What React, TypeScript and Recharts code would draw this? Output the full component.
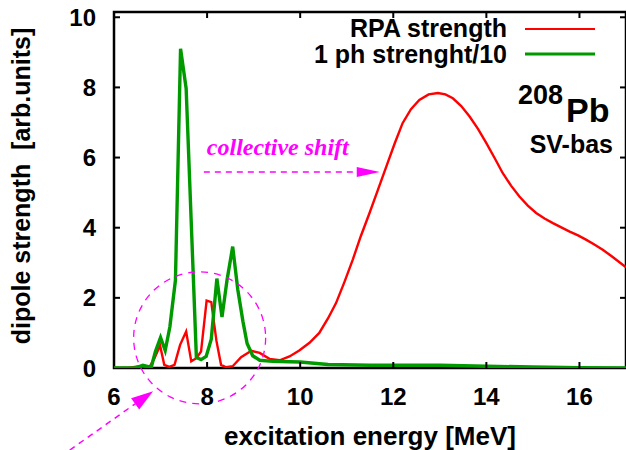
import React from 'react';
import {
  LineChart,
  Line,
  XAxis,
  YAxis,
  ReferenceLine,
  ReferenceArea,
  ReferenceDot,
  Legend,
} from 'recharts';

// RPA dipole strength of 208Pb (SV-bas)
const rpaEnergy = [
  6.0, 6.3, 6.55, 6.76, 6.87, 6.99, 7.08, 7.19, 7.3, 7.42, 7.55, 7.66, 7.77, 7.87, 7.99, 8.09,
  8.2, 8.3, 8.41, 8.55, 8.73, 8.95, 9.13, 9.34, 9.56, 9.77, 9.98, 10.2, 10.41, 10.6, 10.77,
  10.95, 11.13, 11.3, 11.49, 11.67, 11.85, 12.03, 12.2, 12.38, 12.56, 12.76, 12.96, 13.12,
  13.28, 13.46, 13.64, 13.82, 14.0, 14.18, 14.35, 14.53, 14.71, 14.89, 15.07, 15.25, 15.43,
  15.61, 15.79, 15.97, 16.14, 16.32, 16.5, 16.7, 17.0,
];
const rpaStrength = [
  0, 0, 0.05, 0.02, 0.28, 0.64, 0.09, 0.03, 0.09, 0.66, 1.04, 0.19, 0.28, 0.47, 1.92, 1.88,
  0.78, 0.09, 0.02, 0.05, 0.31, 0.49, 0.43, 0.26, 0.22, 0.33, 0.5, 0.72, 1.0, 1.42, 1.85,
  2.45, 3.09, 3.75, 4.42, 5.08, 5.74, 6.4, 6.98, 7.38, 7.64, 7.8, 7.84, 7.8,
  7.69, 7.47, 7.17, 6.82, 6.41, 5.98, 5.56, 5.2, 4.89, 4.63, 4.42, 4.26, 4.13,
  4.01, 3.89, 3.78, 3.66, 3.52, 3.37, 3.18, 2.87,
];

// unperturbed 1ph strength, divided by 10
const phEnergy = [
  6.0, 6.45, 6.62, 6.8, 6.89, 7.0, 7.1, 7.2, 7.32, 7.43, 7.55, 7.77, 7.87, 7.98, 8.09, 8.21,
  8.32, 8.43, 8.55, 8.66, 8.77, 8.86, 8.98, 9.13, 9.41, 9.77, 10.0, 10.6, 11.5, 12.5, 13.0,
  14.0, 15.0, 16.0, 17.0,
];
const phStrength = [
  0, 0, 0.08, 0.02, 0.47, 0.87, 0.5, 1.17, 2.5, 9.1, 7.97, 0.3, 0.24, 0.33, 0.82, 2.55,
  1.45, 2.52, 3.46, 2.23, 1.33, 0.7, 0.35, 0.22, 0.19, 0.18, 0.17, 0.1, 0.08, 0.08, 0.08,
  0.05, 0.03, 0.01, 0,
];

const seriesNames = ['RPA strength', '1 ph strenght/10'];

const xTicks = [6, 8, 10, 12, 14, 16];
const yTicks = [0, 2, 4, 6, 8, 10];
const xInnerTicks = [8, 10, 12, 14, 16];
const yInnerTicks = [2, 4, 6, 8, 10];

const X_MIN = 6;
const X_MAX = 17;
const Y_MIN = 0;
const Y_MAX = 10.15;

const rpaData = rpaEnergy.map((e, i) => ({ e, s: rpaStrength[i] }));
const phData = phEnergy.map((e, i) => ({ e, s: phStrength[i] }));

const W = 626;
const H = 450;
const MARGIN = { top: 12, right: 0, bottom: 0, left: 0 };
const Y_AXIS_W = 114;
const X_AXIS_H = 82;
const PLOT_W = W - MARGIN.left - MARGIN.right - Y_AXIS_W;
const PLOT_H = H - MARGIN.top - MARGIN.bottom - X_AXIS_H;
const PX_PER_X = PLOT_W / (X_MAX - X_MIN);
const PX_PER_Y = PLOT_H / (Y_MAX - Y_MIN);
const TICK_PX = 6;
const tx = TICK_PX / PX_PER_X;
const ty = TICK_PX / PX_PER_Y;

const SANS = '"Liberation Sans", Arial, Helvetica, sans-serif';
const SERIF = '"Liberation Serif", "Times New Roman", serif';
const MAGENTA = '#ff00ff';
const RED = '#ff0000';
const GREEN = '#009a00';

const DashedArrow = (props: any) => {
  const { x1, y1, x2, y2, head = 20, half = 6, text } = props;
  const dx = x2 - x1;
  const dy = y2 - y1;
  const len = Math.hypot(dx, dy) || 1;
  const ux = dx / len;
  const uy = dy / len;
  const bx = x2 - ux * head;
  const by = y2 - uy * head;
  return (
    <g>
      <line
        x1={x1}
        y1={y1}
        x2={bx}
        y2={by}
        stroke={MAGENTA}
        strokeWidth={1.5}
        strokeDasharray="6 5"
      />
      <polygon
        points={`${x2},${y2} ${bx - uy * half},${by + ux * half} ${bx + uy * half},${by - ux * half}`}
        fill={MAGENTA}
      />
      {text ? (
        <text
          x={x1 + 3}
          y={y1 - 17}
          fill={MAGENTA}
          fontFamily={SERIF}
          fontStyle="italic"
          fontWeight="bold"
          fontSize={24}
        >
          {text}
        </text>
      ) : null}
    </g>
  );
};

const LegendContent = (props: any) => {
  const items = [...(props.payload || [])].sort(
    (a: any, b: any) => seriesNames.indexOf(a.value) - seriesNames.indexOf(b.value)
  );
  return (
    <div style={{ fontFamily: SANS, fontWeight: 'bold', fontSize: 25, color: '#000' }}>
      {items.map((it: any) => (
        <div
          key={it.value}
          style={{
            display: 'flex',
            justifyContent: 'flex-end',
            alignItems: 'center',
            height: 25.5,
            lineHeight: '25.5px',
          }}
        >
          <span style={{ whiteSpace: 'pre' }}>{it.value}</span>
          <svg width={88} height={10} style={{ display: 'block' }}>
            <line
              x1={18}
              y1={5}
              x2={88}
              y2={5}
              stroke={it.color}
              strokeWidth={it.value === seriesNames[0] ? 2.2 : 3}
            />
          </svg>
        </div>
      ))}
    </div>
  );
};

const tickStyle = { fontFamily: SANS, fontWeight: 'bold', fontSize: 24, fill: '#000' };

export default function App() {
  return (
    <div style={{ position: 'absolute', left: 0, top: 0, background: '#fff' }}>
      <LineChart width={W} height={H} margin={MARGIN}>
        <XAxis
          type="number"
          dataKey="e"
          domain={[X_MIN, X_MAX]}
          ticks={xTicks}
          allowDataOverflow
          axisLine={false}
          tickLine={false}
          tickSize={0}
          tickMargin={20}
          height={X_AXIS_H}
          tick={tickStyle}
          label={{
            content: (p: any) => {
              const vb = p.viewBox || { x: 0, y: 0, width: 0 };
              return (
                <text
                  x={vb.x + vb.width / 2}
                  y={445}
                  textAnchor="middle"
                  fontFamily={SANS}
                  fontWeight="bold"
                  fontSize={26}
                  fill="#000"
                >
                  excitation energy [MeV]
                </text>
              );
            },
          }}
        />
        <YAxis
          type="number"
          domain={[Y_MIN, Y_MAX]}
          ticks={yTicks}
          allowDataOverflow
          axisLine={false}
          tickLine={false}
          tickSize={0}
          tickMargin={18}
          width={Y_AXIS_W}
          tick={tickStyle}
          label={{
            content: (p: any) => {
              const vb = p.viewBox || { x: 0, y: 0, height: 0 };
              const cy = vb.y + vb.height / 2 - 4;
              return (
                <text
                  transform={`translate(30, ${cy}) rotate(-90)`}
                  textAnchor="middle"
                  fontFamily={SANS}
                  fontWeight="bold"
                  fontSize={25}
                  fill="#000"
                  style={{ whiteSpace: 'pre' }}
                >
                  {'dipole strength  [arb.units]'}
                </text>
              );
            },
          }}
        />

        <Line
          data={rpaData}
          dataKey="s"
          name={seriesNames[0]}
          type="linear"
          stroke={RED}
          strokeWidth={2.4}
          dot={false}
          activeDot={false}
          isAnimationActive={false}
        />
        <Line
          data={phData}
          dataKey="s"
          name={seriesNames[1]}
          type="linear"
          stroke={GREEN}
          strokeWidth={3.4}
          dot={false}
          activeDot={false}
          isAnimationActive={false}
        />

        {/* frame */}
        <ReferenceArea
          x1={X_MIN}
          x2={X_MAX}
          y1={Y_MIN}
          y2={Y_MAX}
          fill="none"
          fillOpacity={0}
          stroke="#000"
          strokeWidth={2.5}
          ifOverflow="visible"
        />
        {/* inward ticks on all four sides */}
        {xInnerTicks.map((v) => (
          <ReferenceLine
            key={`xb${v}`}
            segment={[{ x: v, y: Y_MIN }, { x: v, y: Y_MIN + ty }]}
            stroke="#000"
            strokeWidth={2}
          />
        ))}
        {xInnerTicks.map((v) => (
          <ReferenceLine
            key={`xt${v}`}
            segment={[{ x: v, y: Y_MAX }, { x: v, y: Y_MAX - ty }]}
            stroke="#000"
            strokeWidth={2}
          />
        ))}
        {yInnerTicks.map((v) => (
          <ReferenceLine
            key={`yl${v}`}
            segment={[{ x: X_MIN, y: v }, { x: X_MIN + tx, y: v }]}
            stroke="#000"
            strokeWidth={2}
          />
        ))}
        {yInnerTicks.map((v) => (
          <ReferenceLine
            key={`yr${v}`}
            segment={[{ x: X_MAX, y: v }, { x: X_MAX - tx, y: v }]}
            stroke="#000"
            strokeWidth={2}
          />
        ))}

        {/* low-lying strength marker and arrows */}
        <ReferenceDot
          x={7.84}
          y={0.86}
          r={66}
          fill="none"
          stroke={MAGENTA}
          strokeWidth={1.3}
          strokeDasharray="7 6"
          ifOverflow="visible"
        />
        <ReferenceLine
          segment={[{ x: 5.05, y: -2.34 }, { x: 6.84, y: -0.66 }]}
          ifOverflow="visible"
          shape={(p: any) => <DashedArrow {...p} head={22} half={7} />}
        />
        <ReferenceLine
          segment={[{ x: 7.93, y: 5.59 }, { x: 11.71, y: 5.59 }]}
          ifOverflow="visible"
          shape={(p: any) => <DashedArrow {...p} head={23} half={5} text="collective shift" />}
        />

        {/* nucleus and parametrization */}
        <text x={518} y={104} fontFamily={SANS} fontWeight="bold" fontSize={27} fill="#000">
          208
        </text>
        <text x={566} y={122} fontFamily={SANS} fontWeight="bold" fontSize={34} fill="#000">
          Pb
        </text>
        <text
          x={613}
          y={153}
          textAnchor="end"
          fontFamily={SANS}
          fontWeight="bold"
          fontSize={25}
          fill="#000"
        >
          SV-bas
        </text>

        <Legend
          layout="horizontal"
          verticalAlign="middle"
          align="center"
          content={<LegendContent />}
          wrapperStyle={{ left: 295, top: 16, width: 300, height: 'auto' }}
        />
      </LineChart>
    </div>
  );
}
